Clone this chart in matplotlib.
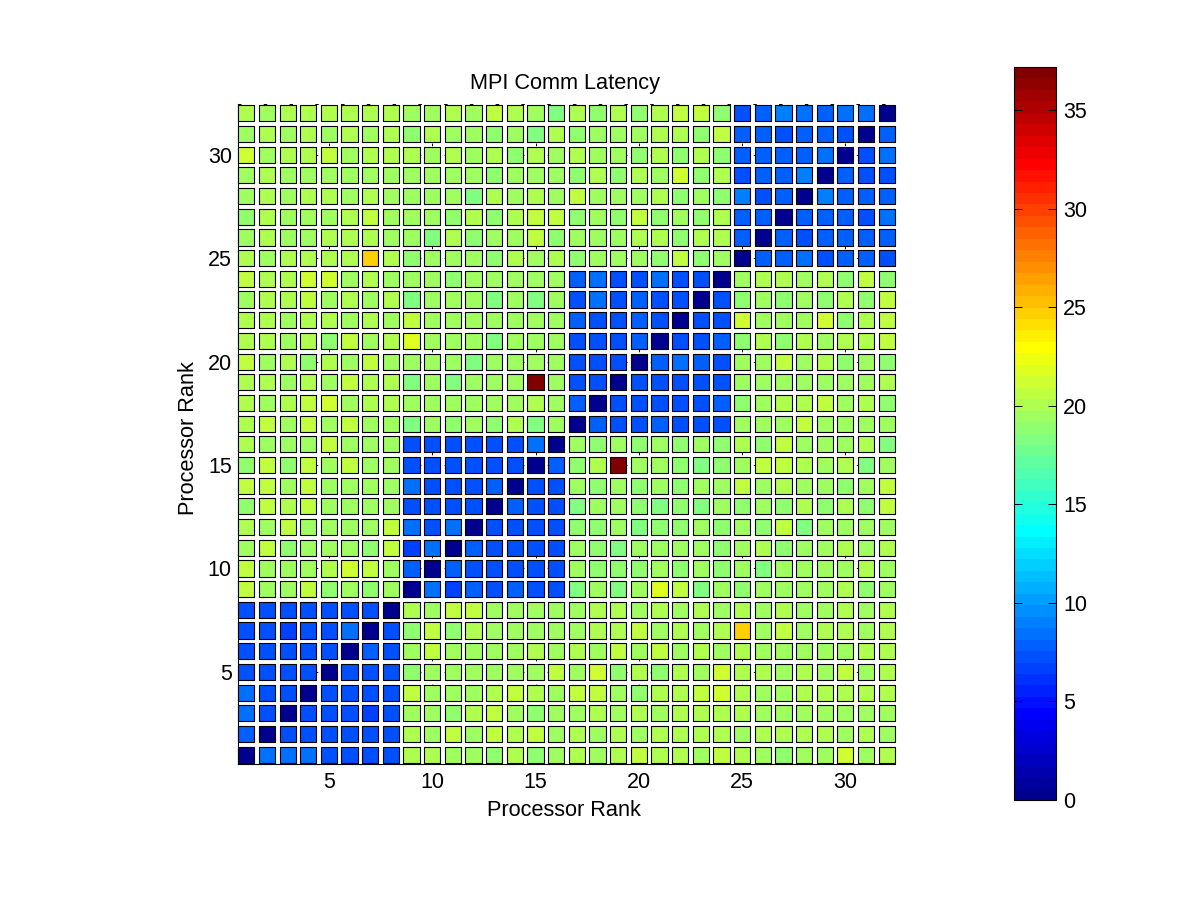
import numpy as np
import matplotlib
matplotlib.use("Agg")
import matplotlib.pyplot as plt
from matplotlib.colors import ListedColormap

plt.rcParams['font.family'] = ['Liberation Sans', 'DejaVu Sans']

ranks = list(range(1, 33))
tick_vals = [5, 10, 15, 20, 25, 30]
cbar_ticks = [0, 5, 10, 15, 20, 25, 30, 35]

# latency per rank pair, first row is rank 32 (top of the picture), last row is rank 1
latency = [
    [20.2,19.2,20.0,20.0,20.0,20.3,20.0,19.8,19.6,19.3,20.3,19.5,20.4,20.0,19.7,18.4,19.8,19.0,20.2,18.9,20.3,20.4,20.4,19.0,7.5,8.0,8.9,8.3,7.6,8.2,8.6,0.0],
    [19.6,20.0,19.4,19.8,19.4,20.1,19.3,19.8,19.0,20.0,19.4,19.4,19.0,19.4,18.4,20.3,19.0,19.6,19.6,19.6,20.1,20.2,19.0,20.6,8.0,8.0,7.4,8.0,7.6,7.2,0.0,8.0],
    [21.2,19.2,19.8,19.9,20.5,19.3,19.9,20.0,20.0,19.3,20.0,19.6,20.0,18.9,20.0,19.7,19.8,19.6,19.4,19.1,20.2,19.0,20.2,19.0,8.0,8.0,8.0,8.0,8.3,0.0,7.4,8.2],
    [19.6,19.8,19.3,19.6,19.3,19.3,19.7,19.3,19.4,19.4,19.6,19.4,19.0,19.4,19.4,19.4,19.0,20.2,19.1,20.1,19.5,21.3,19.0,20.1,7.3,8.0,8.0,8.9,0.0,8.0,7.4,7.2],
    [19.4,19.8,19.3,19.8,20.0,19.3,20.0,19.2,19.4,19.4,19.6,18.4,20.2,19.4,20.0,19.5,20.7,19.6,19.2,19.6,20.1,19.0,19.2,19.0,9.0,7.2,8.0,0.0,8.9,8.0,8.0,8.0],
    [19.0,19.8,19.3,19.4,19.4,19.8,20.4,19.6,19.4,19.4,18.9,20.0,19.0,19.8,20.4,20.5,18.9,19.6,19.0,20.7,19.0,19.7,19.0,20.2,8.0,8.0,0.0,8.0,8.0,8.0,7.2,8.6],
    [19.5,19.8,19.4,19.4,19.8,19.8,20.0,19.3,19.4,18.3,20.1,19.1,19.3,19.5,20.5,19.0,19.6,19.2,19.6,19.8,20.2,19.0,19.8,19.8,8.0,0.0,8.0,7.4,8.0,8.0,8.0,8.0],
    [20.2,19.2,19.8,20.0,20.2,20.0,24.7,20.0,19.0,19.5,19.7,19.7,19.1,20.2,19.4,20.2,19.1,19.4,19.7,19.7,19.0,20.5,19.0,19.6,0.0,8.0,8.0,8.6,7.4,8.0,8.0,7.2],
    [20.5,20.0,19.8,21.0,21.0,19.4,19.8,19.4,19.5,19.2,19.0,19.3,19.3,19.3,19.2,19.3,7.6,8.3,7.4,7.4,8.2,7.4,7.4,0.0,19.7,19.8,20.3,19.2,20.3,19.0,20.7,19.0],
    [19.5,20.0,20.0,20.4,19.2,20.0,19.4,20.0,18.3,19.4,19.6,19.6,18.4,19.4,18.4,19.6,7.4,8.2,7.4,8.1,7.5,7.4,0.0,7.4,18.9,19.6,19.1,19.5,19.0,20.2,19.0,20.4],
    [20.1,20.0,19.7,19.8,20.0,19.4,19.8,19.5,20.4,19.2,19.5,19.2,19.2,19.4,19.3,19.5,8.0,7.1,7.4,8.0,7.4,0.0,7.4,7.4,21.0,19.2,19.6,19.2,21.3,19.1,20.0,20.4],
    [20.0,20.0,19.6,19.8,18.9,20.4,19.3,19.8,21.8,19.4,19.4,19.3,18.4,19.3,19.2,19.5,7.4,7.4,7.4,8.0,0.0,7.4,7.4,8.0,19.0,20.1,19.0,20.2,19.6,20.2,20.1,20.4],
    [20.5,19.4,19.8,18.9,19.9,19.6,20.4,19.3,19.6,19.2,19.4,18.5,19.2,19.4,19.6,19.3,7.4,7.4,7.4,0.0,8.0,8.6,8.0,7.4,19.6,19.7,20.9,19.7,20.3,19.0,19.6,19.0],
    [19.9,20.0,19.4,19.8,19.4,20.5,19.8,20.0,18.3,19.2,18.4,19.6,19.6,19.4,37.2,19.6,7.4,7.2,0.0,7.4,7.4,7.4,7.4,7.4,19.6,19.7,19.3,19.7,19.2,19.5,19.6,20.3],
    [20.1,19.5,19.8,20.4,21.0,19.4,19.8,19.9,19.5,19.2,19.6,19.5,19.4,19.4,19.9,19.5,8.0,0.0,7.4,7.4,7.4,7.4,7.2,8.0,19.0,19.2,19.8,20.0,20.4,19.7,19.8,19.0],
    [20.3,20.4,19.7,20.7,19.6,20.5,19.6,19.7,18.3,19.7,19.0,19.4,18.6,19.8,18.5,19.7,0.0,8.0,7.4,7.4,8.0,7.4,7.5,7.5,19.3,19.5,19.2,20.7,19.2,19.6,19.3,19.4],
    [19.8,19.4,19.4,19.3,20.4,19.6,19.4,19.6,7.2,7.4,7.4,7.4,7.4,7.4,8.2,0.0,19.3,19.0,19.5,19.0,19.3,19.0,19.3,19.0,20.2,18.9,20.5,19.6,19.4,19.4,20.2,18.3],
    [18.8,20.4,18.8,20.4,19.7,20.4,19.5,19.7,7.4,7.4,7.4,7.4,7.2,7.4,0.0,8.0,18.6,19.9,37.2,19.5,19.2,19.0,18.4,19.0,19.7,20.7,20.5,19.8,19.3,20.2,18.5,19.6],
    [20.4,20.4,19.6,20.9,19.5,19.4,19.4,19.6,8.2,7.4,7.4,7.4,8.1,0.0,7.4,7.4,19.3,19.0,19.4,19.1,19.4,19.0,19.3,19.4,20.4,19.3,20.2,19.6,19.4,18.9,19.5,20.4],
    [18.8,20.4,20.3,20.4,19.5,19.6,19.6,19.7,7.4,7.4,7.4,7.3,0.0,8.0,7.4,7.5,18.5,19.6,19.5,19.1,18.5,19.0,18.5,19.3,19.0,19.4,19.0,20.2,19.0,20.2,19.0,20.4],
    [19.9,19.7,20.4,19.5,19.5,19.5,19.5,20.4,8.2,7.4,8.2,0.0,7.4,7.4,7.4,7.4,19.1,19.0,19.4,18.5,19.1,19.0,19.3,19.1,19.6,19.1,20.4,18.4,19.3,19.4,19.5,19.5],
    [19.7,20.4,18.8,19.5,19.7,19.5,18.9,20.4,6.4,8.2,0.0,8.0,7.4,7.4,7.4,7.4,19.4,19.1,18.5,19.6,19.4,19.5,19.4,19.0,19.5,19.9,18.9,19.4,19.4,19.9,19.4,19.9],
    [20.4,19.5,19.6,19.4,19.8,21.0,20.4,19.6,8.0,0.0,8.0,7.4,7.4,7.4,7.4,7.4,19.4,19.0,19.0,19.1,19.4,19.1,19.5,19.1,19.6,18.4,19.4,19.5,19.4,19.6,20.3,19.4],
    [20.4,19.5,19.6,20.8,18.8,19.5,18.8,19.5,0.0,8.2,6.5,8.0,7.4,8.0,7.4,7.4,18.5,19.3,18.5,19.4,21.8,20.7,18.4,19.2,19.0,19.4,19.3,19.5,19.3,19.9,19.0,19.5],
    [7.2,7.4,7.4,7.4,7.5,7.4,7.4,0.0,19.8,19.7,20.4,20.4,19.5,19.5,19.6,19.6,19.6,20.0,19.9,19.5,19.9,19.3,19.9,19.4,20.0,19.4,19.9,19.4,19.3,19.9,19.6,19.8],
    [7.3,7.4,6.5,7.4,7.4,8.2,0.0,7.4,18.9,20.4,18.8,19.8,19.6,19.7,19.7,19.6,19.6,20.1,20.0,20.4,19.4,19.9,19.6,19.9,24.7,19.6,20.4,19.6,20.0,19.9,19.4,19.9],
    [7.2,7.4,7.4,7.4,7.4,0.0,8.0,7.4,19.7,20.9,19.5,19.6,19.5,19.6,20.3,19.6,20.0,19.6,20.4,19.5,20.4,19.3,19.8,19.3,19.8,19.6,19.6,19.4,19.4,19.3,19.8,20.0],
    [7.2,7.4,7.4,7.4,0.0,7.4,7.4,7.4,18.9,19.6,19.6,19.6,19.5,19.6,19.7,20.4,19.4,21.0,19.0,20.0,18.8,20.0,19.5,21.2,20.1,19.8,19.3,19.8,19.3,20.7,19.3,19.9],
    [8.2,7.4,7.4,0.0,7.4,7.3,7.4,7.3,20.9,19.6,19.5,19.5,20.3,20.9,20.2,19.6,20.7,20.6,19.6,18.9,20.1,19.9,20.5,21.2,20.0,19.4,19.4,20.0,19.8,19.9,19.8,19.8],
    [8.2,7.4,0.0,7.4,7.4,7.3,6.5,7.4,19.5,19.6,18.9,20.2,20.4,19.6,18.9,19.6,19.4,20.0,19.4,20.2,19.4,19.8,19.9,20.0,20.2,19.4,19.4,19.7,19.3,19.7,19.4,19.7],
    [8.0,0.0,7.4,7.4,7.4,7.4,7.4,7.4,19.8,19.6,20.4,19.6,20.4,20.2,20.4,19.6,20.0,19.5,19.9,19.4,20.0,20.0,20.0,20.2,19.4,20.0,20.0,20.2,20.1,19.4,20.1,19.3],
    [0.0,8.2,8.2,8.2,7.4,7.4,7.4,7.4,20.3,20.3,19.5,19.6,18.9,20.3,18.9,19.6,20.0,19.6,19.9,20.5,19.9,19.9,19.4,20.4,20.0,19.2,18.9,19.4,19.2,21.2,19.5,20.2],
]

z = np.array(latency)[::-1]
x, y = np.meshgrid(ranks, ranks)

# same 64 step jet as matlab
f = (np.arange(64) + 1) / 64
jet64 = np.clip(1.5 - np.abs(4 * f[:, None] - np.array([3, 2, 1])), 0, 1)
cmap = ListedColormap(jet64)

fig = plt.figure(figsize=(12, 9), dpi=100)
ax = fig.add_axes([238/1200, 136/900, 657/1200, 660/900])

sc = ax.scatter(x.ravel(), y.ravel(), c=z.ravel(), cmap=cmap, vmin=0, vmax=37.2,
                marker='s', s=135, edgecolors='black', linewidths=0.8,
                clip_on=False, zorder=3)
sc.set_snap(True)

dots = (0, (2.6, 23.9))
ax.set_xlim(0.6, 32.4)
ax.set_ylim(0.55, 32.45)
ax.set_xticks(tick_vals)
ax.set_yticks(tick_vals)
ax.tick_params(direction='in', length=0, labelsize=15.5, pad=4.5)
ax.tick_params(axis='x', pad=6)
ax.grid(True, color='black', linewidth=0.7, linestyle=dots)
ax.set_axisbelow(True)
ax.spines['top'].set_linestyle(dots)
ax.spines['top'].set_linewidth(0.7)
ax.spines['right'].set_visible(False)
ax.set_title('MPI Comm Latency', fontsize=15.7, pad=11, x=0.498)
ax.set_xlabel('Processor Rank', fontsize=15.7, labelpad=5, x=0.496)
ax.set_ylabel('Processor Rank', fontsize=15.7, labelpad=6.5, y=0.494)

cax = fig.add_axes([1014/1200, 100/900, 42/1200, 733/900])
cb = fig.colorbar(sc, cax=cax)
cb.set_ticks(cbar_ticks)
cax.tick_params(direction='in', length=6, width=0.7, left=True, right=True, labelsize=15.5, pad=5)
cb.outline.set_linewidth(0.8)

plt.savefig('out.png', dpi=100)
